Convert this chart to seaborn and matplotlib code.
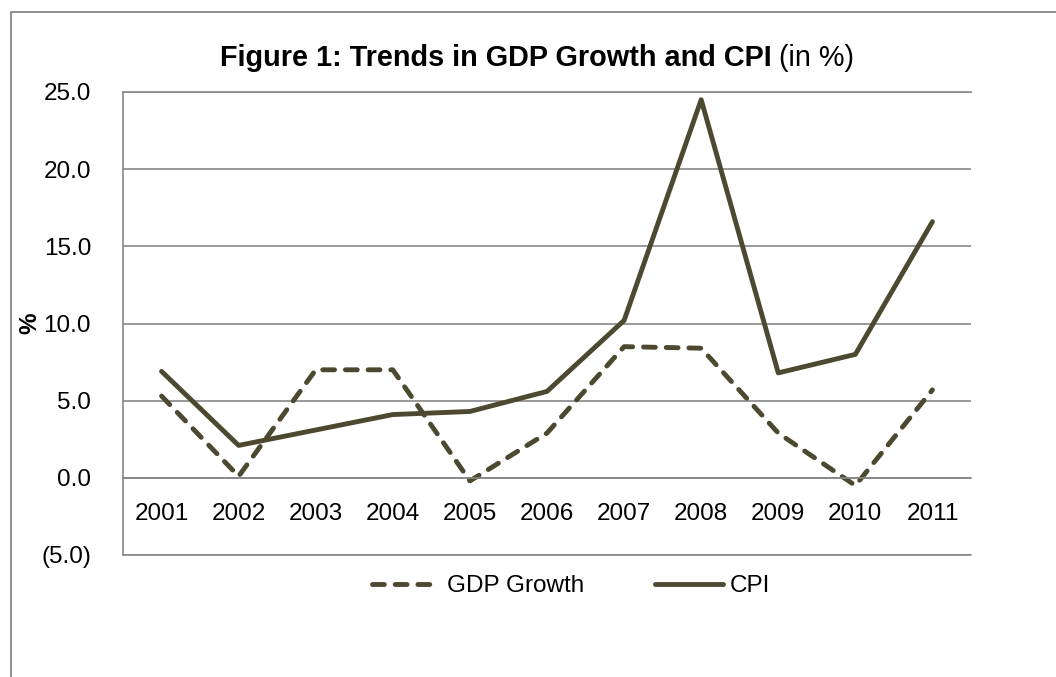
import matplotlib
matplotlib.use("Agg")
import matplotlib.pyplot as plt
import seaborn as sns
import pandas as pd
from matplotlib.lines import Line2D
from matplotlib.patches import Rectangle
from matplotlib.ticker import FuncFormatter, MultipleLocator

# values (in %)
years = ["2001", "2002", "2003", "2004", "2005", "2006",
         "2007", "2008", "2009", "2010", "2011"]
gdp_growth = [5.3, 0.1, 7.0, 7.0, -0.2, 2.9, 8.5, 8.4, 2.9, -0.5, 5.7]
cpi = [6.9, 2.1, 3.1, 4.1, 4.3, 5.6, 10.2, 24.5, 6.8, 8.0, 16.6]
series_names = ["GDP Growth", "CPI"]

df = pd.DataFrame({
    "Year": years * 2,
    "Value": gdp_growth + cpi,
    "Series": [series_names[0]] * len(years) + [series_names[1]] * len(years),
})

sns.set_style("white")
plt.rcParams["font.family"] = ["Liberation Sans", "DejaVu Sans"]
plt.rcParams["text.color"] = "black"
plt.rcParams["axes.labelcolor"] = "black"

line_color = "#4D4830"
grid_color = "#878787"
fs = 17.5
lw = 3.5
dash = (2.44, 2.23)

fig = plt.figure(figsize=(10.56, 6.77), dpi=100)
ax = fig.add_axes([123 / 1056, 1 - 555 / 677, (971 - 123) / 1056, (555 - 92) / 677])

sns.lineplot(data=df, x="Year", y="Value", style="Series", style_order=series_names,
             dashes={"GDP Growth": dash, "CPI": ""}, color=line_color,
             linewidth=lw, sort=False, legend=False, ax=ax)
for ln in ax.lines:
    ln.set_dash_capstyle("round")
    ln.set_solid_capstyle("round")
    ln.set_solid_joinstyle("round")

ax.set_xlim(-0.5, len(years) - 0.5)
ax.set_ylim(-5, 25)
ax.yaxis.set_major_locator(MultipleLocator(5))
ax.yaxis.set_major_formatter(FuncFormatter(
    lambda v, p: f"({abs(v):.1f})" if v < 0 else f"{v:.1f}"))

ax.grid(False)
ax.yaxis.grid(True, color=grid_color, linewidth=1.2)
ax.set_axisbelow(True)
for side in ["left", "top", "bottom"]:
    ax.spines[side].set_color(grid_color)
    ax.spines[side].set_linewidth(1.2)
ax.spines["right"].set_visible(False)
ax.spines["bottom"].set_position(("data", 0))
ax.axhline(-5, color=grid_color, linewidth=1.2, clip_on=False, zorder=0)

ax.tick_params(axis="y", length=0, pad=23, labelsize=fs, labelcolor="black")
ax.tick_params(axis="x", length=0, pad=18, labelsize=fs, labelcolor="black")
ax.set_xlabel("")
ax.set_ylabel("%", fontsize=fs, fontweight="bold", labelpad=0)

# legend below the plot
handles = [
    Line2D([], [], color=line_color, linewidth=lw, dashes=dash, dash_capstyle="round"),
    Line2D([], [], color=line_color, linewidth=lw, solid_capstyle="round"),
]
fig.legend(handles, series_names, loc="center", bbox_to_anchor=(571 / 1056, 1 - 586 / 677),
           ncol=2, frameon=False, fontsize=fs, handlelength=2.8,
           handletextpad=0.3, columnspacing=2.9)

# outer chart-area frame (cut off at the right and bottom)
fig.patches.append(Rectangle((11 / 1056, -0.2), 1.2, 1.2 - 12 / 677,
                             transform=fig.transFigure, fill=False,
                             edgecolor=grid_color, linewidth=1.3))

# title: bold part + normal part, centred together
tfs = 20.8
ty = 1 - 58 / 677
t1 = fig.text(0, ty, "Figure 1: Trends in GDP Growth and CPI", fontsize=tfs,
              fontweight="bold", va="center")
t2 = fig.text(0, ty, " (in %)", fontsize=tfs, va="center")
fig.canvas.draw()
r = fig.canvas.get_renderer()
w1 = t1.get_window_extent(r).width
w2 = t2.get_window_extent(r).width
x0 = 537 - (w1 + w2) / 2
t1.set_x(x0 / 1056)
t2.set_x((x0 + w1) / 1056)

fig.savefig("out.png", dpi=100)
plt.close(fig)
